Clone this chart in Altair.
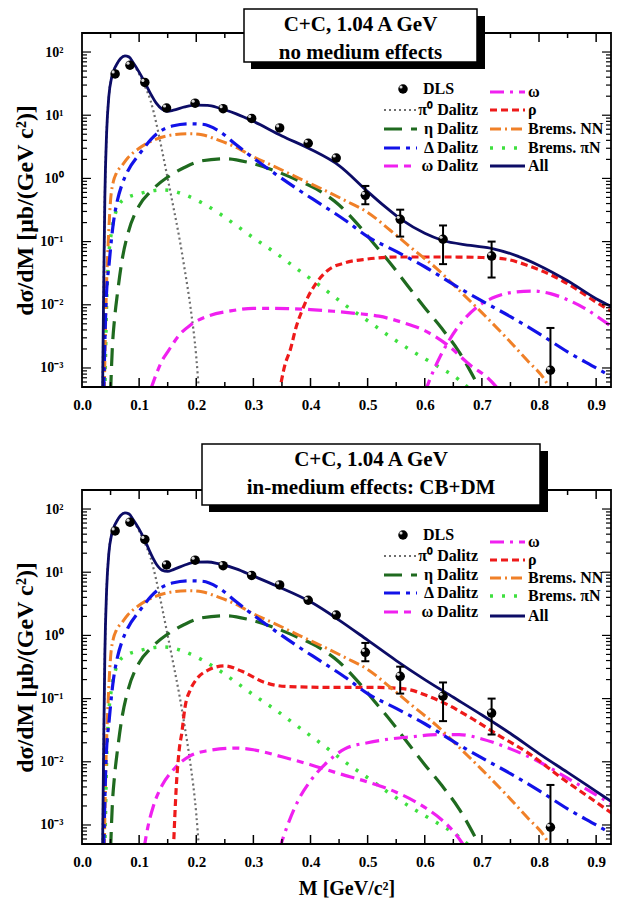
import altair as alt
import pandas as pd

# ---------------------------------------------------------------- data
# DLS data points (same in both panels)
dls_m = [0.058, 0.084, 0.110, 0.148, 0.198, 0.247, 0.297, 0.346, 0.396, 0.445, 0.496, 0.557, 0.632, 0.717, 0.820]
dls_v = [45, 62, 33, 13, 15.5, 12.7, 8.9, 6.3, 3.6, 2.1, 0.54, 0.225, 0.109, 0.059, 0.00092]
err_m = [0.496, 0.557, 0.632, 0.717, 0.820]
err_lo = [0.39, 0.12, 0.044, 0.027, 0.0001]
err_hi = [0.76, 0.32, 0.18, 0.10, 0.0043]

# pi0 Dalitz
pi0_m = [0.036, 0.038, 0.040, 0.043, 0.047, 0.052, 0.060, 0.068, 0.075, 0.082, 0.090, 0.100, 0.110, 0.120,
         0.130, 0.140, 0.150, 0.160, 0.170, 0.180, 0.190, 0.200, 0.205]
pi0_v = [4e-4, 0.02, 0.5, 5, 20, 40, 62, 80, 86, 82, 65, 45, 29, 17, 7.5, 2.8, 1.0, 0.35, 0.12, 0.035, 0.009, 0.0015, 4e-4]

# eta Dalitz
eta_m = [0.050, 0.053, 0.057, 0.062, 0.070, 0.080, 0.100, 0.120, 0.150, 0.180, 0.210, 0.250, 0.290, 0.330,
         0.370, 0.410, 0.450, 0.480, 0.510, 0.540, 0.570, 0.600, 0.630, 0.660, 0.690]
eta_v = [4e-4, 0.002, 0.006, 0.015, 0.05, 0.13, 0.37, 0.62, 1.05, 1.5, 1.9, 2.05, 1.8, 1.4, 1.0, 0.68, 0.38,
         0.2, 0.095, 0.045, 0.02, 0.009, 0.0042, 0.0018, 6e-4]

# Delta Dalitz
delta_m = [0.038, 0.042, 0.048, 0.055, 0.062, 0.070, 0.080, 0.100, 0.130, 0.160, 0.190, 0.210, 0.240, 0.270,
           0.300, 0.340, 0.380, 0.420, 0.460, 0.500, 0.550, 0.600, 0.650, 0.700, 0.750, 0.800, 0.850, 0.900, 0.950]
delta_v = [4e-4, 0.01, 0.05, 0.2, 0.45, 0.8, 1.3, 2.4, 5.0, 6.8, 7.3, 7.2, 5.6, 3.4, 2.1, 1.15, 0.65, 0.38,
           0.22, 0.12, 0.07, 0.04, 0.021, 0.0115, 0.0065, 0.0035, 0.0018, 0.001, 5.5e-4]

# Bremsstrahlung NN
nn_m = [0.039, 0.042, 0.046, 0.050, 0.055, 0.060, 0.070, 0.080, 0.100, 0.130, 0.160, 0.190, 0.210, 0.240,
        0.270, 0.300, 0.340, 0.380, 0.420, 0.460, 0.500, 0.540, 0.580, 0.620, 0.660, 0.700, 0.740, 0.780, 0.810, 0.830]
nn_v = [4e-4, 0.01, 0.1, 0.45, 0.9, 1.2, 1.6, 2.1, 3.0, 4.2, 4.9, 5.1, 4.9, 4.0, 3.1, 2.2, 1.5, 1.0, 0.68,
        0.45, 0.29, 0.15, 0.075, 0.038, 0.017, 0.0075, 0.0032, 0.0013, 6.5e-4, 3e-4]

# Bremsstrahlung piN
pin_m = [0.040, 0.043, 0.047, 0.052, 0.058, 0.066, 0.080, 0.100, 0.120, 0.140, 0.160, 0.180, 0.210, 0.240,
         0.270, 0.300, 0.340, 0.380, 0.420, 0.460, 0.500, 0.540, 0.580, 0.620, 0.660, 0.680]
pin_v = [4e-4, 0.01, 0.06, 0.15, 0.27, 0.4, 0.5, 0.57, 0.63, 0.66, 0.63, 0.55, 0.41, 0.28, 0.18, 0.115,
         0.065, 0.035, 0.019, 0.01, 0.0056, 0.0031, 0.0018, 0.0011, 6.5e-4, 4.5e-4]

# --- top panel (no medium effects)
top_all_m = [0.036, 0.038, 0.040, 0.043, 0.047, 0.052, 0.060, 0.068, 0.075, 0.082, 0.090, 0.100, 0.110, 0.120,
             0.130, 0.140, 0.150, 0.160, 0.180, 0.200, 0.220, 0.240, 0.270, 0.300, 0.350, 0.400, 0.450, 0.500,
             0.530, 0.560, 0.600, 0.630, 0.680, 0.720, 0.760, 0.800, 0.850, 0.900, 0.950]
top_all_v = [4e-4, 0.02, 0.5, 5, 20, 40, 62, 80, 87, 84, 67, 48, 33, 22, 15.5, 12.5, 11.5, 12, 13.5, 14.4,
             14.3, 13, 10.5, 8, 4.7, 2.9, 1.6, 0.62, 0.36, 0.22, 0.135, 0.105, 0.087, 0.077, 0.06, 0.042,
             0.024, 0.0125, 0.0075]
top_rho_m = [0.345, 0.355, 0.365, 0.375, 0.385, 0.395, 0.410, 0.430, 0.460, 0.500, 0.550, 0.600, 0.650,
             0.700, 0.740, 0.780, 0.820, 0.860, 0.900, 0.950]
top_rho_v = [4e-4, 0.0011, 0.002, 0.0045, 0.008, 0.013, 0.022, 0.035, 0.046, 0.053, 0.057, 0.057, 0.057,
             0.056, 0.053, 0.042, 0.03, 0.019, 0.011, 0.006]
top_omd_m = [0.120, 0.130, 0.140, 0.150, 0.170, 0.190, 0.220, 0.260, 0.300, 0.360, 0.400, 0.440, 0.480,
             0.520, 0.560, 0.600, 0.640, 0.680, 0.710, 0.730]
top_omd_v = [4.5e-4, 8e-4, 0.0013, 0.0018, 0.0033, 0.0048, 0.0066, 0.008, 0.0088, 0.0087, 0.0084, 0.0079,
             0.0073, 0.0066, 0.0053, 0.0039, 0.0023, 0.0011, 7e-4, 4.5e-4]
top_om_m = [0.600, 0.610, 0.625, 0.640, 0.660, 0.690, 0.725, 0.760, 0.790, 0.820, 0.850, 0.880, 0.910, 0.950]
top_om_v = [4e-4, 7e-4, 0.0014, 0.0025, 0.0047, 0.009, 0.0135, 0.016, 0.0165, 0.015, 0.012, 0.0088, 0.0058, 0.0032]

# --- bottom panel (in-medium effects CB+DM)
bot_all_m = [0.036, 0.038, 0.040, 0.043, 0.047, 0.052, 0.060, 0.068, 0.075, 0.082, 0.090, 0.100, 0.110, 0.120,
             0.130, 0.140, 0.150, 0.160, 0.180, 0.200, 0.220, 0.240, 0.270, 0.300, 0.340, 0.400, 0.450, 0.500,
             0.550, 0.600, 0.650, 0.700, 0.750, 0.800, 0.850, 0.900, 0.950]
bot_all_v = [4e-4, 0.02, 0.5, 5, 20, 40, 62, 80, 87, 84, 67, 48, 32, 20, 13.5, 10.8, 10.3, 11, 13, 14.4, 14.5,
             13.5, 11.3, 8.7, 6.1, 3.4, 1.75, 0.84, 0.4, 0.2, 0.105, 0.055, 0.028, 0.0135, 0.0068, 0.0034, 0.0017]
bot_rho_m = [0.160, 0.165, 0.170, 0.175, 0.180, 0.190, 0.200, 0.220, 0.250, 0.280, 0.320, 0.360, 0.450,
             0.520, 0.570, 0.600, 0.640, 0.680, 0.730, 0.780, 0.840, 0.900, 0.950]
bot_rho_v = [4e-4, 0.004, 0.015, 0.03, 0.07, 0.14, 0.2, 0.28, 0.33, 0.27, 0.18, 0.155, 0.15, 0.15, 0.14,
             0.115, 0.08, 0.05, 0.026, 0.014, 0.0055, 0.0023, 0.0011]
bot_omd_m = [0.108, 0.115, 0.125, 0.140, 0.160, 0.190, 0.220, 0.270, 0.300, 0.350, 0.400, 0.450, 0.500,
             0.550, 0.600, 0.630, 0.655, 0.670]
bot_omd_v = [4e-4, 9e-4, 0.002, 0.0042, 0.0075, 0.0125, 0.015, 0.0165, 0.0155, 0.012, 0.009, 0.0065, 0.0048,
             0.0033, 0.0019, 0.0012, 7e-4, 4.5e-4]
bot_om_m = [0.345, 0.360, 0.380, 0.400, 0.430, 0.460, 0.500, 0.540, 0.580, 0.620, 0.660, 0.700, 0.750,
            0.800, 0.850, 0.900, 0.950]
bot_om_v = [4e-4, 0.001, 0.0026, 0.005, 0.01, 0.016, 0.02, 0.023, 0.025, 0.027, 0.027, 0.023, 0.016, 0.01,
            0.0055, 0.003, 0.0016]

# labels
x_tick_values = [0.0, 0.1, 0.2, 0.3, 0.4, 0.5, 0.6, 0.7, 0.8, 0.9]
x_minor_values = [0.05, 0.15, 0.25, 0.35, 0.45, 0.55, 0.65, 0.75, 0.85]
y_tick_values = [1e-3, 1e-2, 1e-1, 1, 10, 100]
y_minor_values = [k * 10.0 ** e for e in range(-4, 3) for k in range(2, 10) if 5e-4 < k * 10.0 ** e < 200]
legend_col1 = ["DLS", "π⁰ Dalitz", "η Dalitz", "Δ Dalitz", "ω Dalitz"]
legend_col2 = ["ω", "ρ", "Brems. NN", "Brems. πN", "All"]
title_top = ["C+C,  1.04 A GeV", "no medium effects"]
title_bot = ["C+C,  1.04 A GeV", "in-medium effects: CB+DM"]

# ---------------------------------------------------------------- styling
W, H = 529, 354
FONT = "Liberation Serif"
XS = alt.Scale(domain=[0, 0.926], nice=False, zero=False)
YS = alt.Scale(type="log", domain=[5e-4, 200], nice=False)

STY = {
    "pi0": ("#6e6e6e", [2, 3], 2.2),
    "eta": ("#1f6a1f", [18, 9], 3.2),
    "delta": ("#1212e8", [16, 6, 4, 6], 3.2),
    "omd": ("#f020f0", [14, 6, 7, 6], 3.2),
    "om": ("#f020f0", [14, 6, 3, 6], 3.2),
    "rho": ("#ee1a1a", [7, 4], 3.2),
    "nn": ("#f08028", [11, 4, 2, 4], 3),
    "pin": ("#3fe03f", [3, 9], 3.5),
    "all": ("#0c0c66", None, 2.8),
}

ylabel_expr = ("datum.value >= 50 ? '10²' : datum.value >= 5 ? '10¹' : datum.value >= 0.5 ? '10⁰' : "
               "datum.value >= 0.05 ? '10⁻¹' : datum.value >= 0.005 ? '10⁻²' : '10⁻³'")

one = pd.DataFrame({"k": [0]})


def make_axes(xtitle):
    xa = alt.Axis(values=x_tick_values, format=".1f", ticks=False, tickSize=0, domain=False, grid=False,
                  labelFont=FONT, labelFontWeight="bold", labelFontSize=15, labelColor="black",
                  labelPadding=10, labelFlush=False,
                  title=xtitle if xtitle else "", titleFont=FONT, titleFontWeight="bold",
                  titleFontSize=20, titleColor="black", titlePadding=9)
    ya = alt.Axis(values=y_tick_values, labelExpr=ylabel_expr, ticks=False, tickSize=0, domain=False,
                  grid=False, labelFont=FONT, labelFontWeight="bold", labelFontSize=14, labelColor="black",
                  labelPadding=19, labelFlush=False,
                  title="dσ/dM  [μb/(GeV c²)]", titleFont=FONT, titleFontWeight="bold",
                  titleFontSize=24, titleColor="black", titlePadding=2)
    return xa, ya


def rule(x1, x2, y, color, dash, width):
    kw = dict(color=color, strokeWidth=width)
    if dash:
        kw["strokeDash"] = dash
    return alt.Chart(one).mark_rule(**kw).encode(x=alt.value(x1), x2=alt.value(x2), y=alt.value(y))


def text(txt, x, y, align, size):
    return alt.Chart(one).mark_text(text=txt, align=align, baseline="middle", font=FONT,
                                    fontWeight="bold", fontSize=size, color="black").encode(
        x=alt.value(x), y=alt.value(y))


def panel(curves, box, titles, rows1, rows2, xtitle):
    xa, ya = make_axes(xtitle)

    def X(f):
        return alt.X(f"{f}:Q", scale=XS, axis=xa)

    def Y(f):
        return alt.Y(f"{f}:Q", scale=YS, axis=ya)

    layers = []
    # curves
    for key, (m, v) in curves:
        color, dash, width = STY[key]
        kw = dict(color=color, strokeWidth=width, clip=True, interpolate="monotone")
        if dash:
            kw["strokeDash"] = dash
        layers.append(alt.Chart(pd.DataFrame({"M": m, "v": v})).mark_line(**kw).encode(x=X("M"), y=Y("v")))

    # inward ticks on all four sides
    xmaj = pd.DataFrame({"t": x_tick_values[1:]})
    xmin = pd.DataFrame({"t": x_minor_values})
    ymaj = pd.DataFrame({"t": y_tick_values})
    ymin = pd.DataFrame({"t": y_minor_values})
    for df, ln in ((xmaj, 9), (xmin, 5)):
        layers.append(alt.Chart(df).mark_rule(color="black", strokeWidth=1.5).encode(
            x=X("t"), y=alt.value(H), y2=alt.value(H - ln)))
        layers.append(alt.Chart(df).mark_rule(color="black", strokeWidth=1.5).encode(
            x=X("t"), y=alt.value(0), y2=alt.value(ln)))
    for df, ln in ((ymaj, 9), (ymin, 5)):
        layers.append(alt.Chart(df).mark_rule(color="black", strokeWidth=1.2).encode(
            y=Y("t"), x=alt.value(0), x2=alt.value(ln)))
        layers.append(alt.Chart(df).mark_rule(color="black", strokeWidth=1.2).encode(
            y=Y("t"), x=alt.value(W), x2=alt.value(W - ln)))

    # frame
    layers.append(alt.Chart(one).mark_rect(fill="white", fillOpacity=0, stroke="black", strokeWidth=1.8).encode(
        x=alt.value(0), x2=alt.value(W), y=alt.value(0), y2=alt.value(H)))

    # error bars and DLS points
    eb = pd.DataFrame({"M": err_m, "lo": err_lo, "hi": err_hi})
    layers.append(alt.Chart(eb).mark_rule(color="black", strokeWidth=2, clip=True).encode(
        x=X("M"), y=Y("lo"), y2=alt.Y2("hi")))
    layers.append(alt.Chart(eb).mark_rule(color="black", strokeWidth=2, xOffset=-4, x2Offset=4).encode(
        x=X("M"), x2=alt.X2("M"), y=Y("hi")))
    eb_lo = eb[eb["lo"] > 5e-4]
    layers.append(alt.Chart(eb_lo).mark_rule(color="black", strokeWidth=2, xOffset=-4, x2Offset=4).encode(
        x=X("M"), x2=alt.X2("M"), y=Y("lo")))
    dls = pd.DataFrame({"M": dls_m, "v": dls_v})
    layers.append(alt.Chart(dls).mark_circle(size=90, color="black", opacity=1).encode(x=X("M"), y=Y("v")))
    layers.append(alt.Chart(dls).mark_circle(size=10, color="#d8d8d8", opacity=1, xOffset=-2, yOffset=-2).encode(
        x=X("M"), y=Y("v")))

    # legend
    c1a, c1b, c1t, c2a, c2b, c2t = 302, 335, 396, 408, 443, 446
    layers.append(alt.Chart(one).mark_circle(size=90, color="black", opacity=1).encode(
        x=alt.value(321), y=alt.value(rows1[0])))
    layers.append(alt.Chart(one).mark_circle(size=10, color="#d8d8d8", opacity=1).encode(
        x=alt.value(319), y=alt.value(rows1[0] - 2)))
    layers.append(text(legend_col1[0], 341, rows1[0], "left", 16))
    for key, lab, r in zip(["pi0", "eta", "delta", "omd"], legend_col1[1:], rows1[1:]):
        color, dash, width = STY[key]
        layers.append(rule(c1a, c1b, r, color, dash, width))
        layers.append(text(lab, c1t, r, "right", 16))
    for key, lab, r in zip(["om", "rho", "nn", "pin", "all"], legend_col2, rows2):
        color, dash, width = STY[key]
        layers.append(rule(c2a, c2b, r, color, dash, width))
        layers.append(text(lab, c2t, r, "left", 16))

    # title box with shadow
    bx1, bx2, by1, by2 = box
    layers.append(alt.Chart(one).mark_rect(color="black").encode(
        x=alt.value(bx1 + 7), x2=alt.value(bx2 + 8), y=alt.value(by1 + 7), y2=alt.value(by2 + 7)))
    layers.append(alt.Chart(one).mark_rect(fill="white", stroke="black", strokeWidth=1.5).encode(
        x=alt.value(bx1), x2=alt.value(bx2), y=alt.value(by1), y2=alt.value(by2)))
    cx = (bx1 + bx2) / 2
    layers.append(text(titles[0], cx, by1 + 16, "center", 21))
    layers.append(text(titles[1], cx, by1 + 44, "center", 21))

    return alt.layer(*layers).properties(width=W, height=H)


top = panel(
    [("pi0", (pi0_m, pi0_v)), ("eta", (eta_m, eta_v)), ("pin", (pin_m, pin_v)), ("omd", (top_omd_m, top_omd_v)),
     ("om", (top_om_m, top_om_v)), ("rho", (top_rho_m, top_rho_v)), ("nn", (nn_m, nn_v)),
     ("delta", (delta_m, delta_v)), ("all", (top_all_m, top_all_v))],
    (162, 395, -24, 29), title_top,
    [56, 77, 96, 115, 133], [59, 77, 96, 115, 133], None)

bot = panel(
    [("pi0", (pi0_m, pi0_v)), ("eta", (eta_m, eta_v)), ("pin", (pin_m, pin_v)), ("omd", (bot_omd_m, bot_omd_v)),
     ("om", (bot_om_m, bot_om_v)), ("rho", (bot_rho_m, bot_rho_v)), ("nn", (nn_m, nn_v)),
     ("delta", (delta_m, delta_v)), ("all", (bot_all_m, bot_all_v))],
    (120, 458, -46, 15), title_bot,
    [45, 66, 85, 103, 122], [52, 70, 88, 106, 126], "M [GeV/c²]")

chart = alt.vconcat(top, bot, spacing=31).properties(
    padding={"left": 5, "top": 0, "right": 0, "bottom": 0}, background="white"
).configure_view(strokeWidth=0)

chart.save("out.html", embed_options={"renderer": "svg", "actions": False})
